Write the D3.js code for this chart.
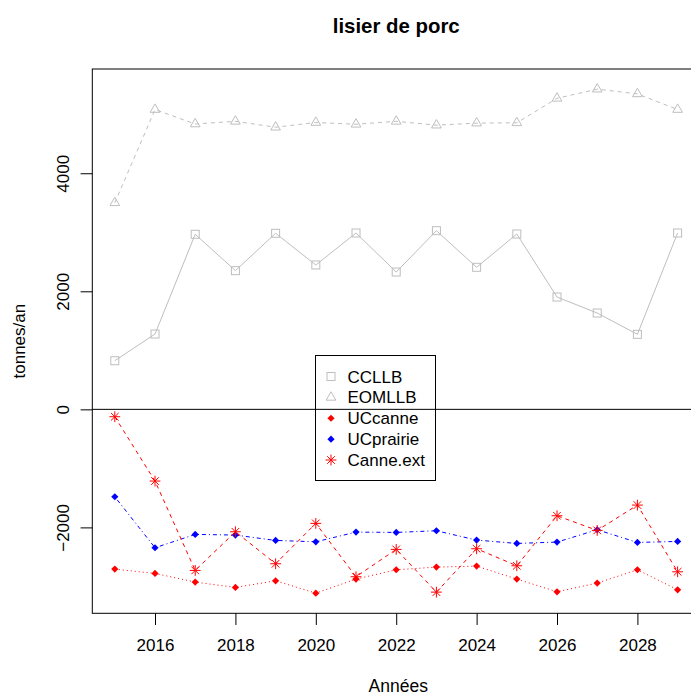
<!DOCTYPE html>
<html>
<head>
<meta charset="utf-8">
<script src="https://cdn.jsdelivr.net/npm/d3@7"></script>
<style>
  html, body { margin: 0; padding: 0; background: #ffffff; }
  svg { display: block; }
  text { font-family: "Liberation Sans", Arial, Helvetica, sans-serif; fill: #000; }
</style>
</head>
<body>
<script>
const years = [2015, 2016, 2017, 2018, 2019, 2020, 2021, 2022, 2023, 2024, 2025, 2026, 2027, 2028, 2029];
const CCLLB = [824, 1276, 2966, 2350, 2983, 2446, 2988, 2327, 3027, 2407, 2971, 1903, 1632, 1271, 2988];
const EOMLLB = [3500, 5080, 4835, 4880, 4780, 4860, 4830, 4880, 4815, 4850, 4855, 5270, 5425, 5345, 5080];
const UCcanne = [-2707, -2780, -2927, -3017, -2905, -3114, -2876, -2718, -2673, -2656, -2876, -3091, -2944, -2718, -3057];
const UCprairie = [-1481, -2345, -2119, -2130, -2221, -2244, -2080, -2085, -2057, -2215, -2272, -2249, -2040, -2255, -2238];
const CanneExt = [-125, -1215, -2729, -2074, -2616, -1932, -2836, -2373, -3097, -2362, -2650, -1803, -2051, -1622, -2752];

const xTicks = [2016, 2018, 2020, 2022, 2024, 2026, 2028];
const yTicks = [-2000, 0, 2000, 4000];
const legendLabels = ["CCLLB", "EOMLLB", "UCcanne", "UCprairie", "Canne.ext"];
const titleText = "lisier de porc";
const xLabel = "Années";
const yLabel = "tonnes/an";

const series = [
  { name: "CCLLB", values: CCLLB, color: "#bebebe", dash: null, shape: "square" },
  { name: "EOMLLB", values: EOMLLB, color: "#bebebe", dash: "4,4", shape: "triangle" },
  { name: "UCcanne", values: UCcanne, color: "#ff0000", dash: "1,3", shape: "diamond" },
  { name: "UCprairie", values: UCprairie, color: "#0000ff", dash: "1,3,4,3", shape: "diamond" },
  { name: "Canne.ext", values: CanneExt, color: "#ff0000", dash: "4,4", shape: "asterisk" }
];

const W = 691, H = 695;
const plotLeft = 92.3, plotTop = 69, plotBottom = 613.3;
const perYear = 40.2;

// R-style 4% axis extension
const xmin = d3.min(years), xmax = d3.max(years);
const xr = xmax - xmin;
const xDom = [xmin - 0.04 * xr, xmax + 0.04 * xr];
const plotRight = plotLeft + (xDom[1] - xDom[0]) * perYear;

const allVals = series.flatMap(s => s.values);
const ymin = d3.min(allVals), ymax = d3.max(allVals);
const yr = ymax - ymin;
const yDom = [ymin - 0.04 * yr, ymax + 0.04 * yr];

const x = d3.scaleLinear().domain(xDom).range([plotLeft, plotRight]);
const y = d3.scaleLinear().domain(yDom).range([plotBottom, plotTop]);

const svg = d3.select("body").append("svg")
  .attr("width", W).attr("height", H)
  .attr("viewBox", `0 0 ${W} ${H}`);

svg.append("rect").attr("width", W).attr("height", H).attr("fill", "#fff");

function drawMarker(g, shape, cx, cy, color) {
  if (shape === "square") {
    g.append("rect").attr("x", cx - 4).attr("y", cy - 4).attr("width", 8).attr("height", 8)
      .attr("fill", "none").attr("stroke", color).attr("stroke-width", 1);
  } else if (shape === "triangle") {
    const r = 5.6, hx = r * Math.sqrt(3) / 2;
    g.append("path").attr("d", `M${cx},${cy - r}L${cx + hx},${cy + r / 2}L${cx - hx},${cy + r / 2}Z`)
      .attr("fill", "none").attr("stroke", color).attr("stroke-width", 1);
  } else if (shape === "diamond") {
    const r = 3.6;
    g.append("path").attr("d", `M${cx},${cy - r}L${cx + r},${cy}L${cx},${cy + r}L${cx - r},${cy}Z`)
      .attr("fill", color).attr("stroke", "none");
  } else if (shape === "asterisk") {
    const p = 5.4, q = 3.8;
    g.append("path").attr("d",
      `M${cx - p},${cy}L${cx + p},${cy}M${cx},${cy - p}L${cx},${cy + p}` +
      `M${cx - q},${cy - q}L${cx + q},${cy + q}M${cx - q},${cy + q}L${cx + q},${cy - q}`)
      .attr("fill", "none").attr("stroke", color).attr("stroke-width", 1);
  }
}

// Series
const line = d3.line().x(d => x(d[0])).y(d => y(d[1]));
series.forEach(s => {
  const pts = years.map((yr_, i) => [yr_, s.values[i]]);
  const g = svg.append("g");
  g.append("path").attr("d", line(pts)).attr("fill", "none")
    .attr("stroke", s.color).attr("stroke-width", 1)
    .attr("stroke-dasharray", s.dash);
  pts.forEach(p => drawMarker(g, s.shape, x(p[0]), y(p[1]), s.color));
});

// Plot box
svg.append("rect").attr("x", plotLeft).attr("y", plotTop)
  .attr("width", plotRight - plotLeft).attr("height", plotBottom - plotTop)
  .attr("fill", "none").attr("stroke", "#000").attr("stroke-width", 1);

// X axis
const xAxisG = svg.append("g").attr("transform", `translate(0,${plotBottom})`);
xAxisG.call(d3.axisBottom(x).tickValues(xTicks).tickFormat(d3.format("d")).tickSize(11.7).tickPadding(3));
xAxisG.select(".domain").remove();
xAxisG.selectAll("line").attr("stroke", "#000");
xAxisG.selectAll("text").attr("font-size", 17).attr("dy", null).attr("y", 37.3)
  .attr("font-family", "Liberation Sans, Arial, Helvetica, sans-serif");

// Y axis
const yAxisG = svg.append("g").attr("transform", `translate(${plotLeft},0)`);
yAxisG.call(d3.axisLeft(y).tickValues(yTicks).tickFormat(d3.format("d")).tickSize(11.7));
yAxisG.select(".domain").remove();
yAxisG.selectAll("line").attr("stroke", "#000");
yAxisG.selectAll(".tick text").each(function () {
  const t = d3.select(this);
  t.attr("x", null).attr("dy", null).attr("text-anchor", "middle")
    .attr("font-size", 17)
    .attr("font-family", "Liberation Sans, Arial, Helvetica, sans-serif")
    .attr("transform", `translate(${68.5 - plotLeft},0) rotate(-90)`)
    .attr("y", 0);
});

// Legend
const lg = svg.append("g");
const lgX = 315.5, lgY = 355.5, lgW = 120, lgH = 125;
lg.append("rect").attr("x", lgX).attr("y", lgY).attr("width", lgW).attr("height", lgH)
  .attr("fill", "#fff").attr("stroke", "#000").attr("stroke-width", 1);
const rowY = d3.scaleLinear().domain([0, legendLabels.length - 1]).range([376.5, 460]);
series.forEach((s, i) => {
  drawMarker(lg, s.shape, 331, rowY(i), s.color);
  lg.append("text").attr("x", 347.5).attr("y", rowY(i) + 6).attr("font-size", 17).text(legendLabels[i]);
});

// Horizontal zero line (drawn after legend, as in the reference)
svg.append("line").attr("x1", plotLeft).attr("x2", plotRight)
  .attr("y1", y(0)).attr("y2", y(0)).attr("stroke", "#000").attr("stroke-width", 1);

// Titles
const cxPlot = (plotLeft + plotRight) / 2;
svg.append("text").attr("x", cxPlot).attr("y", 33).attr("text-anchor", "middle")
  .attr("font-size", 20.4).attr("font-weight", "bold").text(titleText);
svg.append("text").attr("x", cxPlot + 2).attr("y", 691.5).attr("text-anchor", "middle")
  .attr("font-size", 17.5).text(xLabel);
svg.append("text").attr("transform", `translate(25,${(plotTop + plotBottom) / 2}) rotate(-90)`)
  .attr("text-anchor", "middle").attr("font-size", 17).text(yLabel);
</script>
</body>
</html>
